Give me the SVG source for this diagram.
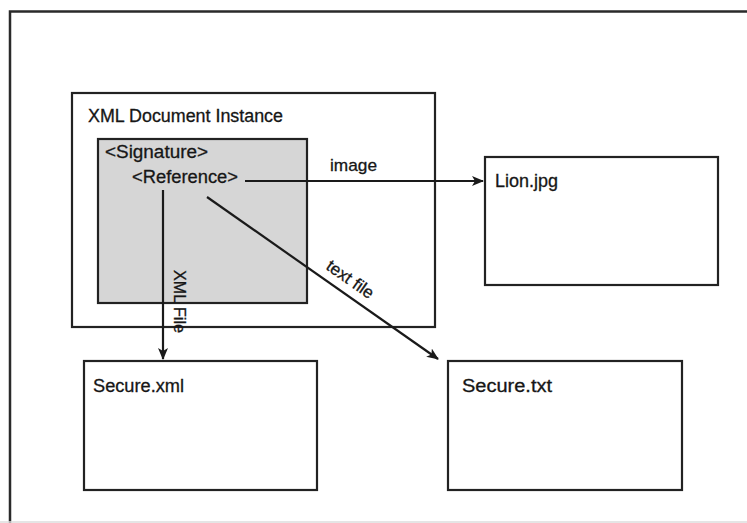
<svg xmlns="http://www.w3.org/2000/svg" width="747" height="523" viewBox="0 0 747 523">
<style>
  .box { fill: #ffffff; stroke: #222222; stroke-width: 2.2; }
  .lbl { font-family: "Liberation Sans", Arial, sans-serif; font-size: 18px; fill: #161616; stroke: #161616; stroke-width: 0.3; }
  .edge { stroke: #1a1a1a; stroke-width: 2.2; fill: none; marker-end: url(#arrow); }
  .elbl { font-family: "Liberation Sans", Arial, sans-serif; font-size: 17px; fill: #161616; stroke: #161616; stroke-width: 0.3; }
</style>
<defs>
  <marker id="arrow" viewBox="0 0 12 10" refX="11" refY="5" markerWidth="12" markerHeight="10" markerUnits="userSpaceOnUse" orient="auto">
    <path d="M0,0 L12,5 L0,10 L3,5 z" fill="#1a1a1a"/>
  </marker>
</defs>
<rect x="0" y="0" width="747" height="523" fill="#ffffff"/>
<g id="frame">
  <path d="M10,523 V11.5 H747" fill="none" stroke="#2a2a2a" stroke-width="2.5"/>
  <line x1="0" y1="522" x2="747" y2="522" stroke="#dddddd" stroke-width="1.5"/>
</g>
<g id="xml-document-instance">
  <rect class="box" x="72" y="93" width="363" height="234"/>
  <text class="lbl" x="88" y="122" textLength="195" lengthAdjust="spacingAndGlyphs">XML Document Instance</text>
</g>
<g id="signature">
  <rect x="98" y="139" width="209" height="164" fill="#d6d6d6" stroke="#222222" stroke-width="2.2"/>
  <text class="lbl" x="105" y="158" textLength="103" lengthAdjust="spacingAndGlyphs">&lt;Signature&gt;</text>
</g>
<g id="reference">
  <text class="lbl" x="132" y="183" textLength="106" lengthAdjust="spacingAndGlyphs">&lt;Reference&gt;</text>
</g>
<g id="lion-jpg">
  <rect class="box" x="485" y="157" width="233" height="128"/>
  <text class="lbl" x="495" y="187" textLength="63" lengthAdjust="spacingAndGlyphs">Lion.jpg</text>
</g>
<g id="secure-xml">
  <rect class="box" x="84" y="361" width="233" height="129"/>
  <text class="lbl" x="93" y="392" textLength="91" lengthAdjust="spacingAndGlyphs">Secure.xml</text>
</g>
<g id="secure-txt">
  <rect class="box" x="448" y="361" width="234" height="129"/>
  <text class="lbl" x="462" y="392" textLength="90" lengthAdjust="spacingAndGlyphs">Secure.txt</text>
</g>
<g id="connectors">
  <line class="edge" x1="245" y1="181" x2="483" y2="181"/>
  <line class="edge" x1="163" y1="190" x2="163" y2="359"/>
  <line class="edge" x1="207" y1="197" x2="438" y2="359"/>
  <text class="elbl" x="330" y="171" textLength="47" lengthAdjust="spacingAndGlyphs">image</text>
  <text class="elbl" transform="translate(174,270) rotate(90)" textLength="63" lengthAdjust="spacingAndGlyphs">XML File</text>
  <text class="elbl" text-anchor="middle" transform="translate(347,284) rotate(35)">text file</text>
</g>
</svg>
